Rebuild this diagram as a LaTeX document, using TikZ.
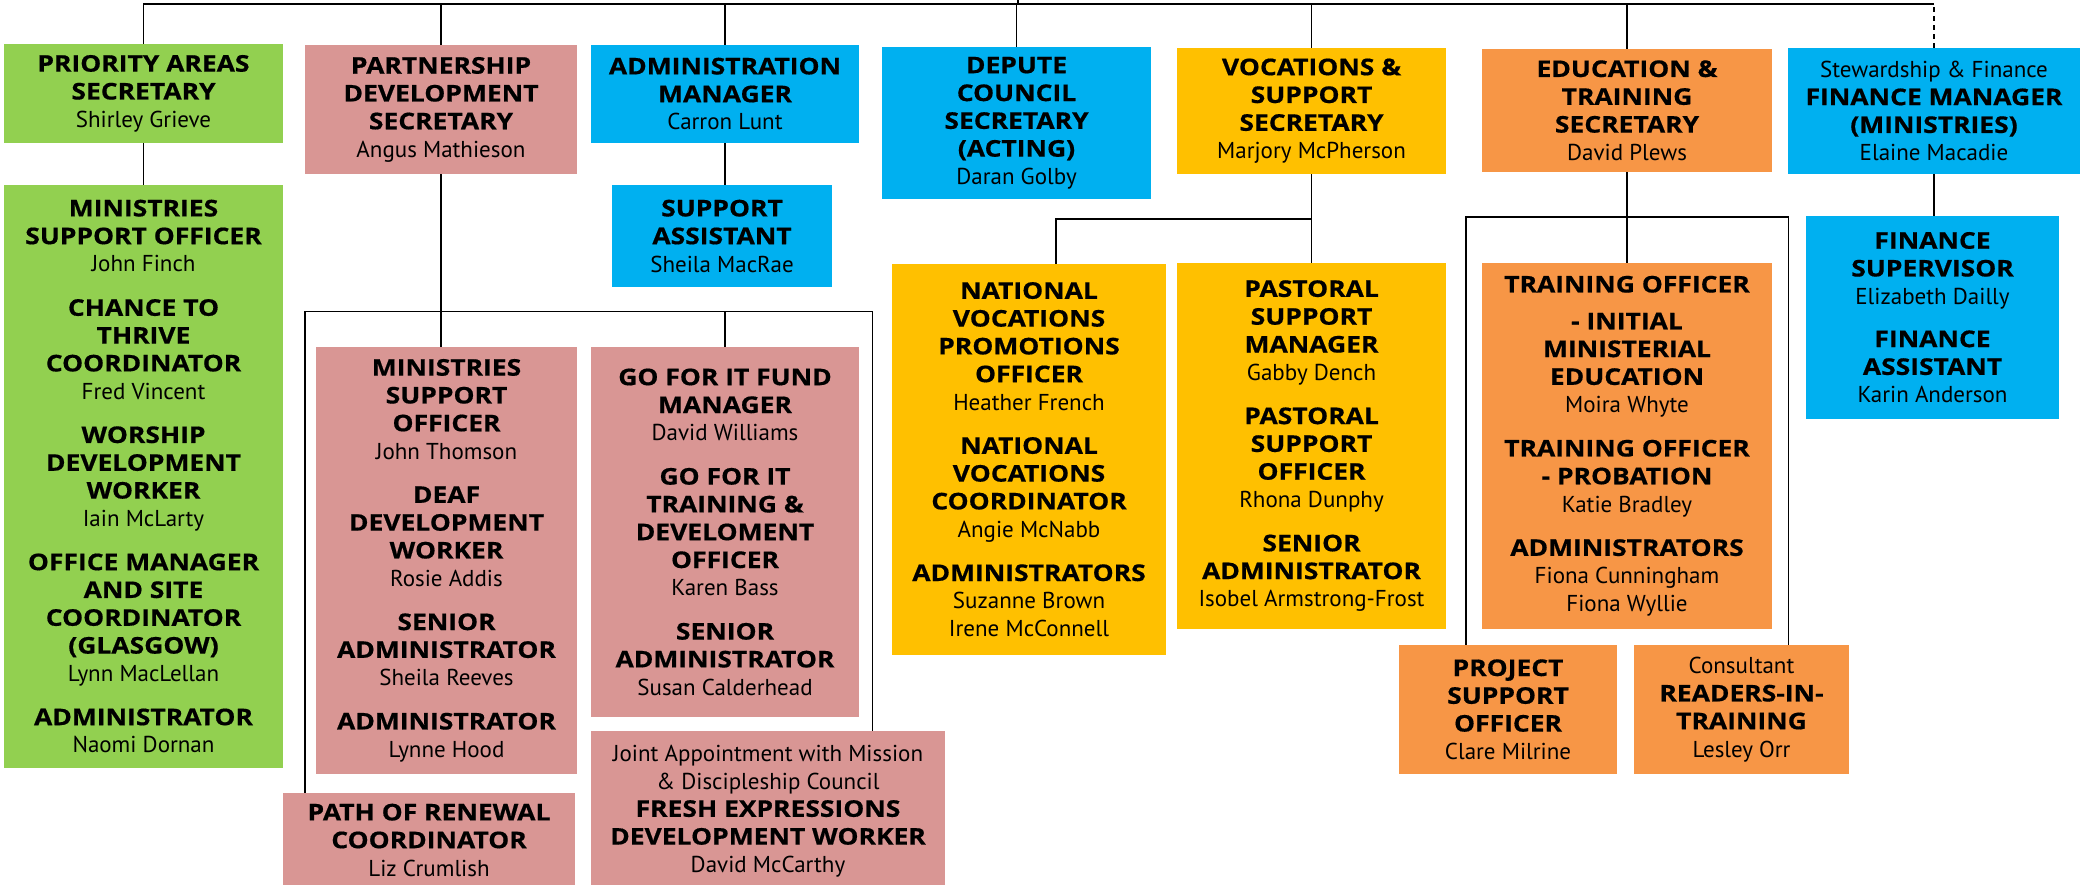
\documentclass[tikz,border=0pt]{standalone}
\usepackage{fontspec}
\setmainfont{PT Sans}[BoldFont={Open Sans Bold}, BoldFeatures={FakeStretch=1.15, FakeBold=0.6}]
\definecolor{cgreen}{HTML}{92D050}
\definecolor{cpink}{HTML}{D99694}
\definecolor{cblue}{HTML}{00B0F0}
\definecolor{cyellow}{HTML}{FFC000}
\definecolor{corange}{HTML}{F79646}
\begin{document}
\begin{tikzpicture}[x=1pt,y=-1pt,
  box/.style={inner sep=0pt, align=center, font=\fontsize{23}{27.8}\selectfont, text=black},
  link/.style={line width=1.4pt, draw=black},
  dlink/.style={link, dash pattern=on 5pt off 4pt}]
\useasboundingbox (0,0) rectangle (2082,885);
\clip (0,0) rectangle (2082,885);
\fill[white] (0,0) rectangle (2082,885);

% top row
\node[box, fill=cgreen, minimum width=279pt, minimum height=99pt] (prio) at (143.5,93.5)
  {\textbf{PRIORITY AREAS}\\\textbf{SECRETARY}\\Shirley Grieve};
\node[box, fill=cpink, minimum width=272pt, minimum height=129pt] (partner) at (441,109.5)
  {\textbf{PARTNERSHIP}\\\textbf{DEVELOPMENT}\\\textbf{SECRETARY}\\Angus Mathieson};
\node[box, fill=cblue, minimum width=268pt, minimum height=98pt] (admin) at (725,94)
  {\textbf{ADMINISTRATION}\\\textbf{MANAGER}\\Carron Lunt};
\node[box, fill=cblue, minimum width=269pt, minimum height=152pt] (depute) at (1016.5,123)
  {\textbf{DEPUTE}\\\textbf{COUNCIL}\\\textbf{SECRETARY}\\\textbf{(ACTING)}\\Daran Golby};
\node[box, fill=cyellow, minimum width=269pt, minimum height=126pt] (vocations) at (1311.5,111)
  {\textbf{VOCATIONS \&}\\\textbf{SUPPORT}\\\textbf{SECRETARY}\\Marjory McPherson};
\node[box, fill=corange, minimum width=290pt, minimum height=123pt] (education) at (1627,110.5)
  {\textbf{EDUCATION \&}\\\textbf{TRAINING}\\\textbf{SECRETARY}\\David Plews};
\node[box, fill=cblue, minimum width=292pt, minimum height=126pt] (finmgr) at (1934,111)
  {Stewardship \& Finance\\\textbf{FINANCE MANAGER}\\\textbf{(MINISTRIES)}\\Elaine Macadie};

% second level
\node[box, fill=cblue, minimum width=220pt, minimum height=102pt] (support) at (722,236)
  {\textbf{SUPPORT}\\\textbf{ASSISTANT}\\Sheila MacRae};
\node[box, fill=cgreen, minimum width=279pt, minimum height=583pt] (green2) at (143.5,476.5)
  {\textbf{MINISTRIES}\\\textbf{SUPPORT OFFICER}\\John Finch\\[16pt]
   \textbf{CHANCE TO}\\\textbf{THRIVE}\\\textbf{COORDINATOR}\\Fred Vincent\\[16pt]
   \textbf{WORSHIP}\\\textbf{DEVELOPMENT}\\\textbf{WORKER}\\Iain McLarty\\[16pt]
   \textbf{OFFICE MANAGER}\\\textbf{AND SITE}\\\textbf{COORDINATOR}\\\textbf{(GLASGOW)}\\Lynn MacLellan\\[16pt]
   \textbf{ADMINISTRATOR}\\Naomi Dornan};
\node[box, fill=cpink, minimum width=261pt, minimum height=427pt] (msopink) at (446.5,560.5)
  {\textbf{MINISTRIES}\\\textbf{SUPPORT}\\\textbf{OFFICER}\\John Thomson\\[16pt]
   \textbf{DEAF}\\\textbf{DEVELOPMENT}\\\textbf{WORKER}\\Rosie Addis\\[16pt]
   \textbf{SENIOR}\\\textbf{ADMINISTRATOR}\\Sheila Reeves\\[16pt]
   \textbf{ADMINISTRATOR}\\Lynne Hood};
\node[box, fill=cpink, minimum width=268pt, minimum height=370pt] (goforit) at (725,532)
  {\textbf{GO FOR IT FUND}\\\textbf{MANAGER}\\David Williams\\[16pt]
   \textbf{GO FOR IT}\\\textbf{TRAINING \&}\\\textbf{DEVELOMENT}\\\textbf{OFFICER}\\Karen Bass\\[16pt]
   \textbf{SENIOR}\\\textbf{ADMINISTRATOR}\\Susan Calderhead};
\node[box, fill=cpink, minimum width=292pt, minimum height=94pt] (path) at (429,840)
  {\textbf{PATH OF RENEWAL}\\\textbf{COORDINATOR}\\Liz Crumlish};
\node[box, fill=cpink, minimum width=354pt, minimum height=160pt] (joint) at (768,811)
  {Joint Appointment with Mission\\\& Discipleship Council\\\textbf{FRESH EXPRESSIONS}\\\textbf{DEVELOPMENT WORKER}\\David McCarthy};
\node[box, fill=cyellow, minimum width=274pt, minimum height=391pt] (national) at (1029,459.5)
  {\textbf{NATIONAL}\\\textbf{VOCATIONS}\\\textbf{PROMOTIONS}\\\textbf{OFFICER}\\Heather French\\[16pt]
   \textbf{NATIONAL}\\\textbf{VOCATIONS}\\\textbf{COORDINATOR}\\Angie McNabb\\[16pt]
   \textbf{ADMINISTRATORS}\\Suzanne Brown\\Irene McConnell};
\node[box, fill=cyellow, minimum width=269pt, minimum height=366pt] (pastoral) at (1311.5,446)
  {\textbf{PASTORAL}\\\textbf{SUPPORT}\\\textbf{MANAGER}\\Gabby Dench\\[16pt]
   \textbf{PASTORAL}\\\textbf{SUPPORT}\\\textbf{OFFICER}\\Rhona Dunphy\\[16pt]
   \textbf{SENIOR}\\\textbf{ADMINISTRATOR}\\Isobel Armstrong-Frost};
\node[box, fill=corange, minimum width=290pt, minimum height=366pt] (training) at (1627,446)
  {\textbf{TRAINING OFFICER}\\[9pt]
   \textbf{- INITIAL}\\\textbf{MINISTERIAL}\\\textbf{EDUCATION}\\Moira Whyte\\[16pt]
   \textbf{TRAINING OFFICER}\\\textbf{- PROBATION}\\Katie Bradley\\[16pt]
   \textbf{ADMINISTRATORS}\\Fiona Cunningham\\Fiona Wyllie};
\node[box, fill=cblue, minimum width=253pt, minimum height=203pt] (finsup) at (1932.5,317.5)
  {\textbf{FINANCE}\\\textbf{SUPERVISOR}\\Elizabeth Dailly\\[15pt]
   \textbf{FINANCE}\\\textbf{ASSISTANT}\\Karin Anderson};
\node[box, fill=corange, minimum width=218pt, minimum height=129pt] (project) at (1508,709.5)
  {\textbf{PROJECT}\\\textbf{SUPPORT}\\\textbf{OFFICER}\\Clare Milrine};
\node[box, fill=corange, minimum width=215pt, minimum height=129pt] (readers) at (1741.5,709.5)
  {Consultant\\\textbf{READERS-IN-}\\\textbf{TRAINING}\\Lesley Orr};

% connectors
\coordinate (root) at (1018,0);
\path (root) ++(0,4) coordinate (bus);
\draw[link] (root) -- (bus);
\draw[link] (prio.north) |- (bus);
\draw[link] (partner.north) |- (bus);
\draw[link] (admin.north) |- (bus);
\draw[link] (depute.north) |- (bus);
\draw[link] (vocations.north) |- (bus);
\draw[link] (education.north) |- (bus);
\draw[dlink] (finmgr.north) -- (finmgr.north |- bus);
\draw[link] (finmgr.north |- bus) -- (bus);

\draw[link] (prio.south) -- (green2.north);
\draw[link] (admin.south) -- (admin.south |- support.north);
\draw[link] (finmgr.south) -- (finmgr.south |- finsup.north);

% partnership bracket
\path (partner.south) ++(0,137) coordinate (pbar);
\draw[link] (partner.south) -- (partner.south |- msopink.north);
\draw[link] ([xshift=22pt]path.north west) |- (pbar) -| ([xshift=-73pt]joint.north east);
\draw[link] (goforit.north) -- (goforit.north |- pbar);

% vocations bracket
\path (vocations.south) ++(0,45) coordinate (vbar);
\draw[link] (vocations.south) -- (pastoral.north);
\draw[link] ([xshift=27pt]national.north) |- (vbar);

% education bracket
\path (education.south) ++(0,45) coordinate (ebar);
\draw[link] (education.south) -- (training.north);
\draw[link] ([xshift=67pt]project.north west) |- (ebar) -| ([xshift=-61pt]readers.north east);
\end{tikzpicture}
\end{document}
